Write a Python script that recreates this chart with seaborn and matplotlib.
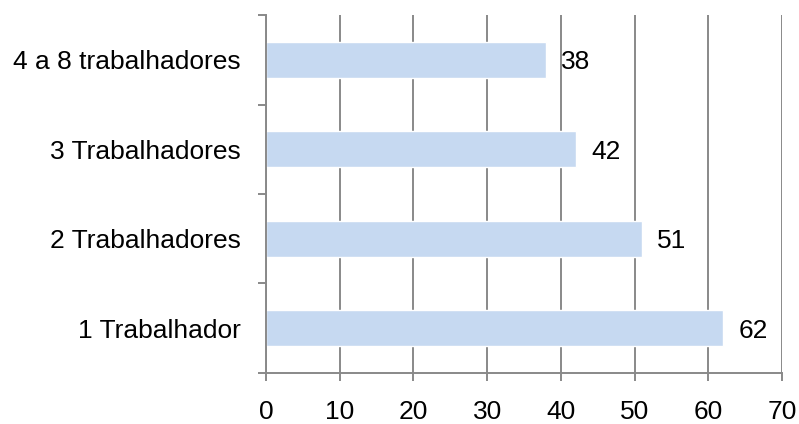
import matplotlib
matplotlib.use("Agg")
import matplotlib.pyplot as plt
import seaborn as sns
import pandas as pd
from matplotlib.ticker import FixedLocator

categories = ["4 a 8 trabalhadores", "3 Trabalhadores", "2 Trabalhadores", "1 Trabalhador"]
values = [38, 42, 51, 62]
x_ticks = [0, 10, 20, 30, 40, 50, 60, 70]

df = pd.DataFrame({"categoria": categories, "valor": values})

sns.set_theme(style="white")
plt.rcParams["font.family"] = ["Liberation Sans", "DejaVu Sans"]

grey = "#898989"
bar_color = "#C6D9F1"

fig = plt.figure(figsize=(7.99, 4.24), dpi=100)
ax = fig.add_axes([0.333, 0.1203, 0.9787 - 0.333, 0.9646 - 0.1203])

sns.barplot(data=df, x="valor", y="categoria", order=categories, orient="h",
            color=bar_color, saturation=1, width=0.4, ax=ax, zorder=2)

ax.set_xlim(0, 70)
ax.set_ylim(len(categories) - 0.5, -0.5)
ax.set_xticks(x_ticks)
ax.set_xticklabels([str(t) for t in x_ticks])
ax.set_xlabel("")
ax.set_ylabel("")

# vertical gridlines behind the bars
ax.grid(axis="x", color=grey, linewidth=1.4, zorder=0)
ax.grid(axis="y", visible=False)
ax.set_axisbelow(True)

for side in ["top", "right"]:
    ax.spines[side].set_visible(False)
for side in ["left", "bottom"]:
    ax.spines[side].set_color(grey)
    ax.spines[side].set_linewidth(1.4)

# category separators as minor ticks on the y axis
ax.yaxis.set_minor_locator(FixedLocator([i - 0.5 for i in range(len(categories) + 1)]))
ax.tick_params(axis="y", which="major", length=0, pad=18, labelsize=19, labelcolor="black")
ax.tick_params(axis="y", which="minor", length=6, width=1.4, color=grey, left=True)
ax.tick_params(axis="x", which="major", length=6, width=1.4, color=grey, bottom=True,
               direction="out", pad=13.5, labelsize=19, labelcolor="black")

labels = ax.bar_label(ax.containers[0], labels=[str(v) for v in values], padding=11,
                      fontsize=19, color="black")
for t in labels:
    t.set_verticalalignment("center_baseline")

fig.savefig("out.png", dpi=100)
